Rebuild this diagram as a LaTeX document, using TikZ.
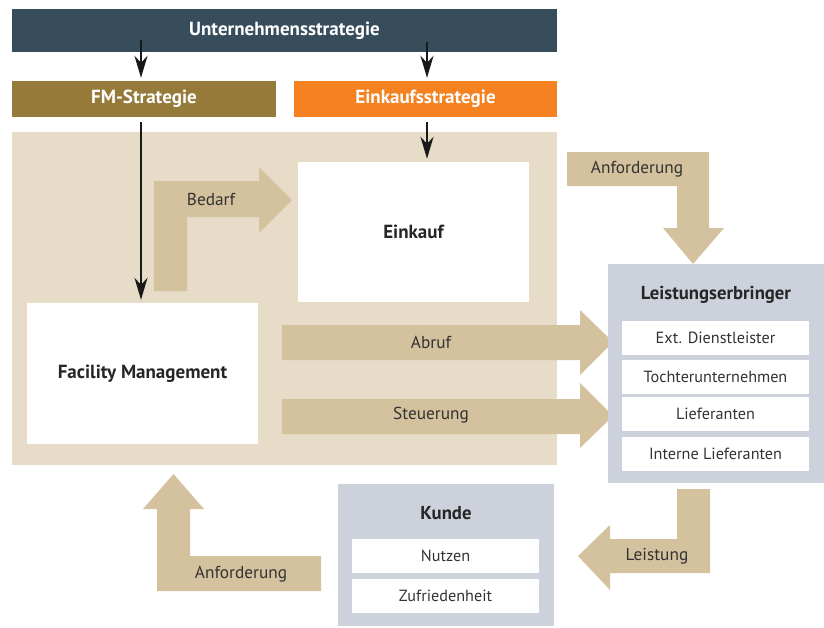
\documentclass[tikz,border=0pt]{standalone}
\usepackage{fontspec}
\setmainfont{PT Sans}
\usetikzlibrary{arrows.meta,calc}
\definecolor{slate}{HTML}{384D5B}
\definecolor{fmc}{HTML}{957A3A}
\definecolor{orng}{HTML}{F58220}
\definecolor{bgc}{HTML}{E6DCC7}
\definecolor{arr}{HTML}{D4C19D}
\definecolor{grayb}{HTML}{CDD1DB}
\definecolor{txt}{HTML}{333333}
\begin{document}
\begin{tikzpicture}[x=1pt,y=-1pt,
 bar/.style={rectangle,inner sep=0pt,text=white,font=\fontsize{19}{22}\selectfont\bfseries},
 wbox/.style={rectangle,fill=white,inner sep=0pt,text=black!85,font=\fontsize{19}{22}\selectfont\bfseries},
 gbox/.style={rectangle,fill=grayb,inner sep=0pt},
 ttl/.style={inner sep=0pt,text=black!85,font=\fontsize{18.7}{22}\selectfont\bfseries},
 item/.style={rectangle,fill=white,inner sep=0pt,minimum width=187pt,minimum height=34pt,text=txt,font=\fontsize{16.2}{19}\selectfont},
 lbl/.style={text=txt,font=\fontsize{17.3}{20}\selectfont,inner sep=0pt},
 fat/.style={fill=arr},
 blk/.style={line width=2.4pt,draw=black!90,shorten >=3pt,-{Stealth[length=22pt,width=13pt,inset=7pt]}}
]
\useasboundingbox (0,0) rectangle (824,627);

% strategy bars
\node[bar,fill=slate,minimum width=545pt,minimum height=43pt] (us) at (284.5,30.5) {Unternehmensstrategie};
\node[bar,fill=fmc,minimum width=264pt,minimum height=36pt] (fms) at (144,99) {FM-Strategie};
\node[bar,fill=orng,minimum width=263pt,minimum height=36pt] (eks) at (425.5,99) {Einkaufsstrategie};

% beige area
\node[rectangle,fill=bgc,inner sep=0pt,minimum width=545pt,minimum height=333pt] (area) at (284.5,298.5) {};

% fat arrows
\fill[fat] (154,291) -- (154,181) -- (259,181) -- (259,167) -- (292,200) -- (259,233) -- (259,217) -- (187,217) -- (187,291) -- cycle;
\node[lbl] (lbedarf) at (211,199) {Bedarf};

\fill[fat] (567,152) -- (709,152) -- (709,228) -- (724,228) -- (693,264) -- (663,228) -- (677,228) -- (677,186) -- (567,186) -- cycle;
\node[lbl] (lanf1) at (637,169) {Anforderung};

\fill[fat] (282,325) -- (580,325) -- (580,310) -- (613,342) -- (580,375) -- (580,360) -- (282,360) -- cycle;
\node[lbl] (labruf) at (431,342) {Abruf};

\fill[fat] (282,399) -- (580,399) -- (580,383) -- (613,416) -- (580,448) -- (580,434) -- (282,434) -- cycle;
\node[lbl] (lsteu) at (431,415) {Steuerung};

\fill[fat] (157,591) -- (157,509) -- (143,509) -- (173.5,474) -- (204,509) -- (190,509) -- (190,556) -- (321,556) -- (321,591) -- cycle;
\node[lbl] (lanf2) at (241,574) {Anforderung};

\fill[fat] (710,489) -- (710,573) -- (610,573) -- (610,590) -- (578,556) -- (610,525) -- (610,539) -- (677,539) -- (677,489) -- cycle;
\node[lbl] (lleist) at (657,556) {Leistung};

% white boxes
\node[wbox,minimum width=231pt,minimum height=140pt] (eink) at (413.5,232) {Einkauf};
\node[wbox,minimum width=231pt,minimum height=141pt] (fm) at (142.5,373.5) {Facility Management};

% Leistungserbringer
\node[gbox,minimum width=216pt,minimum height=219pt] (le) at (716,373.5) {};
\node[ttl] (letitle) at (716,295) {Leistungserbringer};
\node[item] (i1) at (715.5,337.5) {Ext. Dienstleister};
\node[item] (i2) at (715.5,377) {Tochterunternehmen};
\node[item] (i3) at (715.5,414) {Lieferanten};
\node[item] (i4) at (715.5,454) {Interne Lieferanten};

% Kunde
\node[gbox,minimum width=216pt,minimum height=142pt] (ku) at (446,555) {};
\node[ttl] (kutitle) at (446,513) {Kunde};
\node[item] (k1) at (445.5,556) {Nutzen};
\node[item] (k2) at (445.5,596) {Zufriedenheit};

% black arrows
\coordinate (s1) at (141,40);
\coordinate (s2) at (427,42);
\coordinate (s3) at (141,122);
\coordinate (s4) at (427,122);
\draw[blk] (s1) -- (s1 |- fms.north);
\draw[blk] (s2) -- (s2 |- eks.north);
\draw[blk] (s3) -- (s3 |- fm.north);
\draw[blk] (s4) -- (s4 |- eink.north);
\end{tikzpicture}
\end{document}
